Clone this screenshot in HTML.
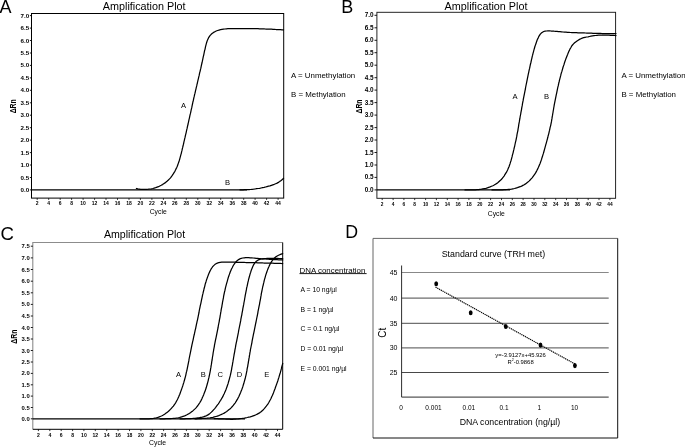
<!DOCTYPE html>
<html lang="en"><head><meta charset="utf-8"><title>Figure</title>
<style>html,body{margin:0;padding:0;background:#fff}svg{display:block}</style></head>
<body>
<svg width="685" height="447" viewBox="0 0 685 447" font-family="'Liberation Sans', Arial, Helvetica, sans-serif" fill="#000">
<rect width="685" height="447" fill="#fff"/>
<text x="-0.6" y="12.5" font-size="18" text-anchor="start" font-weight="normal" >A</text>
<text x="144.2" y="9.7" font-size="10.8" text-anchor="middle" font-weight="normal" >Amplification Plot</text>
<rect x="31.5" y="13.5" width="252.2" height="184.6" fill="none" stroke="#000" stroke-width="1.0"/>
<line x1="29.9" y1="189.9" x2="31.5" y2="189.9" stroke="#000" stroke-width="0.9"/>
<text transform="translate(29.1,191.9) scale(1,1)" font-size="6.2" text-anchor="end" font-weight="bold">0.0</text>
<line x1="29.9" y1="177.5" x2="31.5" y2="177.5" stroke="#000" stroke-width="0.9"/>
<text transform="translate(29.1,179.5) scale(1,1)" font-size="6.2" text-anchor="end" font-weight="bold">0.5</text>
<line x1="29.9" y1="165.0" x2="31.5" y2="165.0" stroke="#000" stroke-width="0.9"/>
<text transform="translate(29.1,167.0) scale(1,1)" font-size="6.2" text-anchor="end" font-weight="bold">1.0</text>
<line x1="29.9" y1="152.6" x2="31.5" y2="152.6" stroke="#000" stroke-width="0.9"/>
<text transform="translate(29.1,154.6) scale(1,1)" font-size="6.2" text-anchor="end" font-weight="bold">1.5</text>
<line x1="29.9" y1="140.1" x2="31.5" y2="140.1" stroke="#000" stroke-width="0.9"/>
<text transform="translate(29.1,142.1) scale(1,1)" font-size="6.2" text-anchor="end" font-weight="bold">2.0</text>
<line x1="29.9" y1="127.7" x2="31.5" y2="127.7" stroke="#000" stroke-width="0.9"/>
<text transform="translate(29.1,129.7) scale(1,1)" font-size="6.2" text-anchor="end" font-weight="bold">2.5</text>
<line x1="29.9" y1="115.2" x2="31.5" y2="115.2" stroke="#000" stroke-width="0.9"/>
<text transform="translate(29.1,117.2) scale(1,1)" font-size="6.2" text-anchor="end" font-weight="bold">3.0</text>
<line x1="29.9" y1="102.8" x2="31.5" y2="102.8" stroke="#000" stroke-width="0.9"/>
<text transform="translate(29.1,104.8) scale(1,1)" font-size="6.2" text-anchor="end" font-weight="bold">3.5</text>
<line x1="29.9" y1="90.3" x2="31.5" y2="90.3" stroke="#000" stroke-width="0.9"/>
<text transform="translate(29.1,92.3) scale(1,1)" font-size="6.2" text-anchor="end" font-weight="bold">4.0</text>
<line x1="29.9" y1="77.9" x2="31.5" y2="77.9" stroke="#000" stroke-width="0.9"/>
<text transform="translate(29.1,79.9) scale(1,1)" font-size="6.2" text-anchor="end" font-weight="bold">4.5</text>
<line x1="29.9" y1="65.4" x2="31.5" y2="65.4" stroke="#000" stroke-width="0.9"/>
<text transform="translate(29.1,67.4) scale(1,1)" font-size="6.2" text-anchor="end" font-weight="bold">5.0</text>
<line x1="29.9" y1="53.0" x2="31.5" y2="53.0" stroke="#000" stroke-width="0.9"/>
<text transform="translate(29.1,55.0) scale(1,1)" font-size="6.2" text-anchor="end" font-weight="bold">5.5</text>
<line x1="29.9" y1="40.5" x2="31.5" y2="40.5" stroke="#000" stroke-width="0.9"/>
<text transform="translate(29.1,42.5) scale(1,1)" font-size="6.2" text-anchor="end" font-weight="bold">6.0</text>
<line x1="29.9" y1="28.1" x2="31.5" y2="28.1" stroke="#000" stroke-width="0.9"/>
<text transform="translate(29.1,30.1) scale(1,1)" font-size="6.2" text-anchor="end" font-weight="bold">6.5</text>
<line x1="29.9" y1="15.6" x2="31.5" y2="15.6" stroke="#000" stroke-width="0.9"/>
<text transform="translate(29.1,17.6) scale(1,1)" font-size="6.2" text-anchor="end" font-weight="bold">7.0</text>
<line x1="37.2" y1="198.1" x2="37.2" y2="199.9" stroke="#000" stroke-width="0.8"/>
<text transform="translate(37.2,205.3) scale(1,1)" font-size="5.0" text-anchor="middle" font-weight="bold">2</text>
<line x1="48.7" y1="198.1" x2="48.7" y2="199.9" stroke="#000" stroke-width="0.8"/>
<text transform="translate(48.7,205.3) scale(1,1)" font-size="5.0" text-anchor="middle" font-weight="bold">4</text>
<line x1="60.2" y1="198.1" x2="60.2" y2="199.9" stroke="#000" stroke-width="0.8"/>
<text transform="translate(60.2,205.3) scale(1,1)" font-size="5.0" text-anchor="middle" font-weight="bold">6</text>
<line x1="71.6" y1="198.1" x2="71.6" y2="199.9" stroke="#000" stroke-width="0.8"/>
<text transform="translate(71.6,205.3) scale(1,1)" font-size="5.0" text-anchor="middle" font-weight="bold">8</text>
<line x1="83.1" y1="198.1" x2="83.1" y2="199.9" stroke="#000" stroke-width="0.8"/>
<text transform="translate(83.1,205.3) scale(1,1)" font-size="5.0" text-anchor="middle" font-weight="bold">10</text>
<line x1="94.6" y1="198.1" x2="94.6" y2="199.9" stroke="#000" stroke-width="0.8"/>
<text transform="translate(94.6,205.3) scale(1,1)" font-size="5.0" text-anchor="middle" font-weight="bold">12</text>
<line x1="106.0" y1="198.1" x2="106.0" y2="199.9" stroke="#000" stroke-width="0.8"/>
<text transform="translate(106.0,205.3) scale(1,1)" font-size="5.0" text-anchor="middle" font-weight="bold">14</text>
<line x1="117.5" y1="198.1" x2="117.5" y2="199.9" stroke="#000" stroke-width="0.8"/>
<text transform="translate(117.5,205.3) scale(1,1)" font-size="5.0" text-anchor="middle" font-weight="bold">16</text>
<line x1="129.0" y1="198.1" x2="129.0" y2="199.9" stroke="#000" stroke-width="0.8"/>
<text transform="translate(129.0,205.3) scale(1,1)" font-size="5.0" text-anchor="middle" font-weight="bold">18</text>
<line x1="140.4" y1="198.1" x2="140.4" y2="199.9" stroke="#000" stroke-width="0.8"/>
<text transform="translate(140.4,205.3) scale(1,1)" font-size="5.0" text-anchor="middle" font-weight="bold">20</text>
<line x1="151.9" y1="198.1" x2="151.9" y2="199.9" stroke="#000" stroke-width="0.8"/>
<text transform="translate(151.9,205.3) scale(1,1)" font-size="5.0" text-anchor="middle" font-weight="bold">22</text>
<line x1="163.4" y1="198.1" x2="163.4" y2="199.9" stroke="#000" stroke-width="0.8"/>
<text transform="translate(163.4,205.3) scale(1,1)" font-size="5.0" text-anchor="middle" font-weight="bold">24</text>
<line x1="174.8" y1="198.1" x2="174.8" y2="199.9" stroke="#000" stroke-width="0.8"/>
<text transform="translate(174.8,205.3) scale(1,1)" font-size="5.0" text-anchor="middle" font-weight="bold">26</text>
<line x1="186.3" y1="198.1" x2="186.3" y2="199.9" stroke="#000" stroke-width="0.8"/>
<text transform="translate(186.3,205.3) scale(1,1)" font-size="5.0" text-anchor="middle" font-weight="bold">28</text>
<line x1="197.8" y1="198.1" x2="197.8" y2="199.9" stroke="#000" stroke-width="0.8"/>
<text transform="translate(197.8,205.3) scale(1,1)" font-size="5.0" text-anchor="middle" font-weight="bold">30</text>
<line x1="209.3" y1="198.1" x2="209.3" y2="199.9" stroke="#000" stroke-width="0.8"/>
<text transform="translate(209.3,205.3) scale(1,1)" font-size="5.0" text-anchor="middle" font-weight="bold">32</text>
<line x1="220.7" y1="198.1" x2="220.7" y2="199.9" stroke="#000" stroke-width="0.8"/>
<text transform="translate(220.7,205.3) scale(1,1)" font-size="5.0" text-anchor="middle" font-weight="bold">34</text>
<line x1="232.2" y1="198.1" x2="232.2" y2="199.9" stroke="#000" stroke-width="0.8"/>
<text transform="translate(232.2,205.3) scale(1,1)" font-size="5.0" text-anchor="middle" font-weight="bold">36</text>
<line x1="243.7" y1="198.1" x2="243.7" y2="199.9" stroke="#000" stroke-width="0.8"/>
<text transform="translate(243.7,205.3) scale(1,1)" font-size="5.0" text-anchor="middle" font-weight="bold">38</text>
<line x1="255.1" y1="198.1" x2="255.1" y2="199.9" stroke="#000" stroke-width="0.8"/>
<text transform="translate(255.1,205.3) scale(1,1)" font-size="5.0" text-anchor="middle" font-weight="bold">40</text>
<line x1="266.6" y1="198.1" x2="266.6" y2="199.9" stroke="#000" stroke-width="0.8"/>
<text transform="translate(266.6,205.3) scale(1,1)" font-size="5.0" text-anchor="middle" font-weight="bold">42</text>
<line x1="278.1" y1="198.1" x2="278.1" y2="199.9" stroke="#000" stroke-width="0.8"/>
<text transform="translate(278.1,205.3) scale(1,1)" font-size="5.0" text-anchor="middle" font-weight="bold">44</text>
<text transform="translate(16.4,106.3) rotate(-90) scale(1,1.3)" font-size="6.9" font-weight="bold" text-anchor="middle">ΔRn</text>
<text x="158.2" y="214.2" font-size="6.8" text-anchor="middle" font-weight="normal" >Cycle</text>
<line x1="31.5" y1="189.8" x2="247" y2="189.8" stroke="#000" stroke-width="1.3"/>
<path d="M136.4,188.5 L137.9,188.9 L139.3,189.1 L140.8,189.3 L142.3,189.4 L143.8,189.4 L145.3,189.4 L146.8,189.3 L148.3,189.2 L149.8,189.0 L151.3,188.8 L152.8,188.5 L154.2,188.1 L155.7,187.7 L157.1,187.2 L158.5,186.7 L159.8,186.0 L161.2,185.3 L162.5,184.6 L163.7,183.7 L165.0,182.9 L166.1,182.0 L167.3,181.0 L168.4,180.0 L169.5,178.9 L170.5,177.8 L171.4,176.6 L172.3,175.4 L173.1,174.2 L173.9,172.9 L174.7,171.6 L175.4,170.3 L176.0,168.9 L176.7,167.6 L177.3,166.2 L177.8,164.8 L178.3,163.4 L178.8,162.0 L179.3,160.5 L179.7,159.1 L180.1,157.6 L180.5,156.2 L180.9,154.7 L181.3,153.3 L181.6,151.8 L182.0,150.4 L182.3,148.9 L182.7,147.4 L183.0,146.0 L183.4,144.5 L183.7,143.1 L184.0,141.6 L184.4,140.1 L184.7,138.7 L185.1,137.2 L185.4,135.7 L185.7,134.3 L186.1,132.8 L186.4,131.3 L186.7,129.9 L187.1,128.4 L187.4,126.9 L187.7,125.5 L188.1,124.0 L188.4,122.5 L188.7,121.1 L189.0,119.6 L189.4,118.1 L189.7,116.7 L190.0,115.2 L190.4,113.7 L190.7,112.3 L191.0,110.8 L191.3,109.3 L191.7,107.9 L192.0,106.4 L192.3,104.9 L192.6,103.5 L192.9,102.0 L193.3,100.5 L193.6,99.1 L193.9,97.6 L194.3,96.2 L194.6,94.7 L195.0,93.2 L195.3,91.8 L195.6,90.3 L196.0,88.8 L196.3,87.4 L196.7,85.9 L197.0,84.4 L197.4,83.0 L197.7,81.5 L198.0,80.1 L198.4,78.6 L198.7,77.1 L199.1,75.7 L199.4,74.2 L199.7,72.7 L200.1,71.3 L200.4,69.8 L200.8,68.4 L201.1,66.9 L201.4,65.4 L201.7,64.0 L202.1,62.5 L202.4,61.0 L202.7,59.6 L203.0,58.1 L203.3,56.6 L203.7,55.1 L204.0,53.7 L204.3,52.2 L204.6,50.7 L205.0,49.3 L205.3,47.8 L205.6,46.3 L206.0,44.9 L206.4,43.4 L206.8,42.0 L207.3,40.6 L207.9,39.2 L208.5,37.9 L209.3,36.6 L210.2,35.4 L211.2,34.3 L212.4,33.3 L213.6,32.4 L214.9,31.7 L216.2,31.0 L217.6,30.5 L219.0,30.1 L220.5,29.7 L222.0,29.4 L223.5,29.2 L224.9,29.0 L226.4,28.8 L227.9,28.7 L229.4,28.7 L230.9,28.6 L232.4,28.6 L233.9,28.6 L235.4,28.5 L237.0,28.5 L238.5,28.5 L240.0,28.5 L241.5,28.5 L243.0,28.5 L244.5,28.5 L246.0,28.5 L247.5,28.5 L249.0,28.5 L250.5,28.5 L252.0,28.6 L253.5,28.6 L255.0,28.6 L256.5,28.7 L258.0,28.7 L259.5,28.8 L261.0,28.8 L262.5,28.9 L264.0,28.9 L265.5,29.0 L267.0,29.0 L268.5,29.1 L270.0,29.2 L271.5,29.2 L273.0,29.3 L274.5,29.4 L276.0,29.5 L277.5,29.5 L279.0,29.6 L280.5,29.7 L282.0,29.8 L283.5,29.9" fill="none" stroke="#000" stroke-width="1.25" stroke-linejoin="round" stroke-linecap="round"/>
<path d="M240.0,189.8 L241.5,189.8 L243.0,189.8 L244.6,189.7 L246.1,189.7 L247.6,189.7 L249.1,189.6 L250.6,189.5 L252.1,189.3 L253.6,189.2 L255.1,189.0 L256.6,188.7 L258.1,188.5 L259.6,188.3 L261.1,188.0 L262.6,187.7 L264.1,187.4 L265.6,187.0 L267.0,186.6 L268.5,186.2 L269.9,185.8 L271.4,185.3 L272.8,184.8 L274.3,184.3 L275.7,183.7 L277.1,183.1 L278.4,182.4 L279.6,181.6 L280.8,180.7 L282.0,179.7 L283.1,178.7 L283.5,178.3" fill="none" stroke="#000" stroke-width="1.25" stroke-linejoin="round" stroke-linecap="round"/>
<text x="183.6" y="108.0" font-size="7.6" text-anchor="middle" font-weight="normal" >A</text>
<text x="227.6" y="185" font-size="7.6" text-anchor="middle" font-weight="normal" >B</text>
<text x="291.0" y="78" font-size="7.9" text-anchor="start" font-weight="normal" >A = Unmethylation</text>
<text x="291.0" y="97" font-size="7.9" text-anchor="start" font-weight="normal" >B = Methylation</text>
<text x="341.3" y="12.7" font-size="18" text-anchor="start" font-weight="normal" >B</text>
<text x="486.0" y="9.7" font-size="10.8" text-anchor="middle" font-weight="normal" >Amplification Plot</text>
<rect x="376.9" y="12.3" width="238.7" height="186.0" fill="none" stroke="#1a1a1a" stroke-width="0.95"/>
<line x1="374.5" y1="189.9" x2="376.9" y2="189.9" stroke="#000" stroke-width="0.9"/>
<text transform="translate(373.6,191.9) scale(1,1)" font-size="6.4" text-anchor="end" font-weight="bold">0.0</text>
<line x1="374.5" y1="177.4" x2="376.9" y2="177.4" stroke="#000" stroke-width="0.9"/>
<text transform="translate(373.6,179.4) scale(1,1)" font-size="6.4" text-anchor="end" font-weight="bold">0.5</text>
<line x1="374.5" y1="165.0" x2="376.9" y2="165.0" stroke="#000" stroke-width="0.9"/>
<text transform="translate(373.6,167.0) scale(1,1)" font-size="6.4" text-anchor="end" font-weight="bold">1.0</text>
<line x1="374.5" y1="152.5" x2="376.9" y2="152.5" stroke="#000" stroke-width="0.9"/>
<text transform="translate(373.6,154.5) scale(1,1)" font-size="6.4" text-anchor="end" font-weight="bold">1.5</text>
<line x1="374.5" y1="140.0" x2="376.9" y2="140.0" stroke="#000" stroke-width="0.9"/>
<text transform="translate(373.6,142.0) scale(1,1)" font-size="6.4" text-anchor="end" font-weight="bold">2.0</text>
<line x1="374.5" y1="127.6" x2="376.9" y2="127.6" stroke="#000" stroke-width="0.9"/>
<text transform="translate(373.6,129.6) scale(1,1)" font-size="6.4" text-anchor="end" font-weight="bold">2.5</text>
<line x1="374.5" y1="115.1" x2="376.9" y2="115.1" stroke="#000" stroke-width="0.9"/>
<text transform="translate(373.6,117.1) scale(1,1)" font-size="6.4" text-anchor="end" font-weight="bold">3.0</text>
<line x1="374.5" y1="102.6" x2="376.9" y2="102.6" stroke="#000" stroke-width="0.9"/>
<text transform="translate(373.6,104.6) scale(1,1)" font-size="6.4" text-anchor="end" font-weight="bold">3.5</text>
<line x1="374.5" y1="90.1" x2="376.9" y2="90.1" stroke="#000" stroke-width="0.9"/>
<text transform="translate(373.6,92.1) scale(1,1)" font-size="6.4" text-anchor="end" font-weight="bold">4.0</text>
<line x1="374.5" y1="77.7" x2="376.9" y2="77.7" stroke="#000" stroke-width="0.9"/>
<text transform="translate(373.6,79.7) scale(1,1)" font-size="6.4" text-anchor="end" font-weight="bold">4.5</text>
<line x1="374.5" y1="65.2" x2="376.9" y2="65.2" stroke="#000" stroke-width="0.9"/>
<text transform="translate(373.6,67.2) scale(1,1)" font-size="6.4" text-anchor="end" font-weight="bold">5.0</text>
<line x1="374.5" y1="52.7" x2="376.9" y2="52.7" stroke="#000" stroke-width="0.9"/>
<text transform="translate(373.6,54.7) scale(1,1)" font-size="6.4" text-anchor="end" font-weight="bold">5.5</text>
<line x1="374.5" y1="40.3" x2="376.9" y2="40.3" stroke="#000" stroke-width="0.9"/>
<text transform="translate(373.6,42.3) scale(1,1)" font-size="6.4" text-anchor="end" font-weight="bold">6.0</text>
<line x1="374.5" y1="27.8" x2="376.9" y2="27.8" stroke="#000" stroke-width="0.9"/>
<text transform="translate(373.6,29.8) scale(1,1)" font-size="6.4" text-anchor="end" font-weight="bold">6.5</text>
<line x1="374.5" y1="15.3" x2="376.9" y2="15.3" stroke="#000" stroke-width="0.9"/>
<text transform="translate(373.6,17.3) scale(1,1)" font-size="6.4" text-anchor="end" font-weight="bold">7.0</text>
<line x1="382.2" y1="198.3" x2="382.2" y2="200.1" stroke="#000" stroke-width="0.8"/>
<text transform="translate(382.2,206.2) scale(1,1)" font-size="4.8" text-anchor="middle" font-weight="bold">2</text>
<line x1="393.1" y1="198.3" x2="393.1" y2="200.1" stroke="#000" stroke-width="0.8"/>
<text transform="translate(393.1,206.2) scale(1,1)" font-size="4.8" text-anchor="middle" font-weight="bold">4</text>
<line x1="403.9" y1="198.3" x2="403.9" y2="200.1" stroke="#000" stroke-width="0.8"/>
<text transform="translate(403.9,206.2) scale(1,1)" font-size="4.8" text-anchor="middle" font-weight="bold">6</text>
<line x1="414.7" y1="198.3" x2="414.7" y2="200.1" stroke="#000" stroke-width="0.8"/>
<text transform="translate(414.7,206.2) scale(1,1)" font-size="4.8" text-anchor="middle" font-weight="bold">8</text>
<line x1="425.6" y1="198.3" x2="425.6" y2="200.1" stroke="#000" stroke-width="0.8"/>
<text transform="translate(425.6,206.2) scale(1,1)" font-size="4.8" text-anchor="middle" font-weight="bold">10</text>
<line x1="436.4" y1="198.3" x2="436.4" y2="200.1" stroke="#000" stroke-width="0.8"/>
<text transform="translate(436.4,206.2) scale(1,1)" font-size="4.8" text-anchor="middle" font-weight="bold">12</text>
<line x1="447.3" y1="198.3" x2="447.3" y2="200.1" stroke="#000" stroke-width="0.8"/>
<text transform="translate(447.3,206.2) scale(1,1)" font-size="4.8" text-anchor="middle" font-weight="bold">14</text>
<line x1="458.1" y1="198.3" x2="458.1" y2="200.1" stroke="#000" stroke-width="0.8"/>
<text transform="translate(458.1,206.2) scale(1,1)" font-size="4.8" text-anchor="middle" font-weight="bold">16</text>
<line x1="468.9" y1="198.3" x2="468.9" y2="200.1" stroke="#000" stroke-width="0.8"/>
<text transform="translate(468.9,206.2) scale(1,1)" font-size="4.8" text-anchor="middle" font-weight="bold">18</text>
<line x1="479.8" y1="198.3" x2="479.8" y2="200.1" stroke="#000" stroke-width="0.8"/>
<text transform="translate(479.8,206.2) scale(1,1)" font-size="4.8" text-anchor="middle" font-weight="bold">20</text>
<line x1="490.6" y1="198.3" x2="490.6" y2="200.1" stroke="#000" stroke-width="0.8"/>
<text transform="translate(490.6,206.2) scale(1,1)" font-size="4.8" text-anchor="middle" font-weight="bold">22</text>
<line x1="501.5" y1="198.3" x2="501.5" y2="200.1" stroke="#000" stroke-width="0.8"/>
<text transform="translate(501.5,206.2) scale(1,1)" font-size="4.8" text-anchor="middle" font-weight="bold">24</text>
<line x1="512.3" y1="198.3" x2="512.3" y2="200.1" stroke="#000" stroke-width="0.8"/>
<text transform="translate(512.3,206.2) scale(1,1)" font-size="4.8" text-anchor="middle" font-weight="bold">26</text>
<line x1="523.1" y1="198.3" x2="523.1" y2="200.1" stroke="#000" stroke-width="0.8"/>
<text transform="translate(523.1,206.2) scale(1,1)" font-size="4.8" text-anchor="middle" font-weight="bold">28</text>
<line x1="534.0" y1="198.3" x2="534.0" y2="200.1" stroke="#000" stroke-width="0.8"/>
<text transform="translate(534.0,206.2) scale(1,1)" font-size="4.8" text-anchor="middle" font-weight="bold">30</text>
<line x1="544.8" y1="198.3" x2="544.8" y2="200.1" stroke="#000" stroke-width="0.8"/>
<text transform="translate(544.8,206.2) scale(1,1)" font-size="4.8" text-anchor="middle" font-weight="bold">32</text>
<line x1="555.7" y1="198.3" x2="555.7" y2="200.1" stroke="#000" stroke-width="0.8"/>
<text transform="translate(555.7,206.2) scale(1,1)" font-size="4.8" text-anchor="middle" font-weight="bold">34</text>
<line x1="566.5" y1="198.3" x2="566.5" y2="200.1" stroke="#000" stroke-width="0.8"/>
<text transform="translate(566.5,206.2) scale(1,1)" font-size="4.8" text-anchor="middle" font-weight="bold">36</text>
<line x1="577.3" y1="198.3" x2="577.3" y2="200.1" stroke="#000" stroke-width="0.8"/>
<text transform="translate(577.3,206.2) scale(1,1)" font-size="4.8" text-anchor="middle" font-weight="bold">38</text>
<line x1="588.2" y1="198.3" x2="588.2" y2="200.1" stroke="#000" stroke-width="0.8"/>
<text transform="translate(588.2,206.2) scale(1,1)" font-size="4.8" text-anchor="middle" font-weight="bold">40</text>
<line x1="599.0" y1="198.3" x2="599.0" y2="200.1" stroke="#000" stroke-width="0.8"/>
<text transform="translate(599.0,206.2) scale(1,1)" font-size="4.8" text-anchor="middle" font-weight="bold">42</text>
<line x1="609.9" y1="198.3" x2="609.9" y2="200.1" stroke="#000" stroke-width="0.8"/>
<text transform="translate(609.9,206.2) scale(1,1)" font-size="4.8" text-anchor="middle" font-weight="bold">44</text>
<text transform="translate(362.3,106.5) rotate(-90) scale(1,1.3)" font-size="6.9" font-weight="bold" text-anchor="middle">ΔRn</text>
<text x="496.3" y="216" font-size="6.8" text-anchor="middle" font-weight="normal" >Cycle</text>
<line x1="376.9" y1="189.9" x2="510" y2="189.9" stroke="#000" stroke-width="1.3"/>
<path d="M465.0,189.9 L466.5,189.9 L468.0,189.9 L469.5,189.9 L471.0,189.9 L472.5,189.9 L474.0,189.8 L475.5,189.8 L477.0,189.7 L478.5,189.6 L480.0,189.4 L481.5,189.2 L482.9,188.9 L484.4,188.6 L485.9,188.3 L487.3,187.9 L488.7,187.4 L490.1,186.9 L491.5,186.3 L492.9,185.7 L494.2,185.0 L495.5,184.2 L496.8,183.4 L498.0,182.5 L499.1,181.5 L500.2,180.5 L501.3,179.5 L502.3,178.3 L503.2,177.2 L504.1,176.0 L504.9,174.7 L505.7,173.4 L506.5,172.1 L507.2,170.8 L507.8,169.5 L508.4,168.1 L509.0,166.7 L509.5,165.3 L510.0,163.9 L510.4,162.4 L510.9,161.0 L511.3,159.6 L511.7,158.1 L512.1,156.7 L512.4,155.2 L512.8,153.8 L513.2,152.3 L513.5,150.8 L513.9,149.4 L514.2,147.9 L514.6,146.5 L514.9,145.0 L515.2,143.5 L515.5,142.1 L515.9,140.6 L516.2,139.1 L516.5,137.7 L516.8,136.2 L517.0,134.7 L517.3,133.2 L517.6,131.8 L517.9,130.3 L518.1,128.8 L518.4,127.3 L518.6,125.8 L518.8,124.4 L519.1,122.9 L519.4,121.4 L519.6,119.9 L519.9,118.5 L520.1,117.0 L520.4,115.5 L520.7,114.0 L520.9,112.6 L521.2,111.1 L521.5,109.6 L521.7,108.1 L522.0,106.6 L522.3,105.2 L522.5,103.7 L522.8,102.2 L523.1,100.7 L523.3,99.3 L523.6,97.8 L523.9,96.3 L524.2,94.8 L524.5,93.4 L524.8,91.9 L525.1,90.4 L525.4,89.0 L525.6,87.5 L525.9,86.0 L526.2,84.5 L526.5,83.1 L526.8,81.6 L527.1,80.1 L527.4,78.7 L527.7,77.2 L528.0,75.7 L528.3,74.2 L528.6,72.8 L528.9,71.3 L529.2,69.8 L529.6,68.4 L529.9,66.9 L530.2,65.4 L530.5,64.0 L530.9,62.5 L531.2,61.1 L531.5,59.6 L531.9,58.1 L532.2,56.7 L532.6,55.2 L532.9,53.8 L533.3,52.3 L533.7,50.8 L534.1,49.4 L534.5,48.0 L534.9,46.5 L535.4,45.1 L535.9,43.7 L536.4,42.3 L536.9,40.8 L537.4,39.4 L538.1,38.1 L538.7,36.7 L539.5,35.4 L540.3,34.2 L541.3,33.1 L542.5,32.2 L543.7,31.5 L545.1,31.1 L546.5,31.0 L548.0,30.9 L549.6,30.9 L551.1,31.0 L552.6,31.0 L554.1,31.2 L555.6,31.3 L557.0,31.4 L558.5,31.6 L560.0,31.7 L561.5,31.8 L563.0,32.0 L564.5,32.1 L566.0,32.2 L567.5,32.3 L569.0,32.4 L570.5,32.5 L572.0,32.6 L573.5,32.6 L575.0,32.7 L576.5,32.7 L578.0,32.8 L579.5,32.8 L581.0,32.9 L582.5,32.9 L584.0,32.9 L585.5,33.0 L587.0,33.1 L588.5,33.1 L590.0,33.2 L591.5,33.2 L593.0,33.3 L594.5,33.3 L596.0,33.3 L597.5,33.4 L599.0,33.4 L600.5,33.4 L602.0,33.5 L603.5,33.5 L605.0,33.5 L606.5,33.5 L608.0,33.5 L609.5,33.6 L611.0,33.6 L612.5,33.6 L614.0,33.6 L615.5,33.6 L616.0,33.6" fill="none" stroke="#000" stroke-width="1.25" stroke-linejoin="round" stroke-linecap="round"/>
<path d="M492.0,189.9 L493.5,189.9 L495.0,189.9 L496.5,189.9 L498.0,189.9 L499.5,189.8 L501.0,189.8 L502.5,189.8 L504.0,189.7 L505.5,189.6 L507.0,189.5 L508.5,189.4 L510.0,189.3 L511.5,189.1 L513.0,188.8 L514.5,188.5 L515.9,188.1 L517.4,187.7 L518.8,187.2 L520.2,186.7 L521.6,186.1 L522.9,185.4 L524.2,184.7 L525.5,183.9 L526.7,183.0 L527.9,182.1 L529.0,181.1 L530.1,180.0 L531.1,178.9 L532.1,177.8 L533.0,176.6 L533.9,175.4 L534.8,174.2 L535.6,172.9 L536.3,171.6 L537.0,170.3 L537.7,168.9 L538.3,167.6 L538.9,166.2 L539.5,164.8 L540.1,163.4 L540.6,162.0 L541.1,160.6 L541.6,159.2 L542.0,157.7 L542.5,156.3 L542.9,154.9 L543.4,153.4 L543.8,152.0 L544.2,150.5 L544.6,149.1 L545.0,147.6 L545.4,146.2 L545.8,144.7 L546.2,143.3 L546.6,141.8 L547.0,140.4 L547.4,138.9 L547.8,137.5 L548.1,136.0 L548.5,134.6 L548.9,133.1 L549.2,131.6 L549.6,130.2 L549.9,128.7 L550.2,127.2 L550.6,125.8 L550.9,124.3 L551.2,122.8 L551.5,121.4 L551.7,119.9 L552.0,118.4 L552.2,116.9 L552.5,115.4 L552.7,114.0 L553.0,112.5 L553.2,111.0 L553.5,109.5 L553.7,108.0 L554.0,106.5 L554.2,105.1 L554.5,103.6 L554.8,102.1 L555.1,100.6 L555.4,99.2 L555.7,97.7 L556.0,96.2 L556.3,94.7 L556.6,93.3 L556.9,91.8 L557.2,90.3 L557.5,88.9 L557.8,87.4 L558.2,85.9 L558.5,84.5 L558.8,83.0 L559.2,81.5 L559.5,80.1 L559.9,78.6 L560.3,77.2 L560.7,75.7 L561.0,74.2 L561.4,72.8 L561.9,71.4 L562.3,69.9 L562.7,68.5 L563.1,67.0 L563.6,65.6 L564.1,64.2 L564.5,62.7 L565.0,61.3 L565.5,59.9 L566.0,58.5 L566.6,57.1 L567.1,55.7 L567.7,54.3 L568.2,52.9 L568.8,51.5 L569.5,50.1 L570.1,48.8 L570.9,47.5 L571.6,46.2 L572.5,45.0 L573.5,43.9 L574.6,42.8 L575.7,41.9 L577.0,41.0 L578.2,40.2 L579.5,39.4 L580.9,38.7 L582.2,38.1 L583.6,37.7 L585.1,37.3 L586.6,37.0 L588.1,36.8 L589.5,36.5 L591.0,36.2 L592.5,35.9 L594.0,35.7 L595.5,35.5 L597.0,35.3 L598.5,35.2 L600.0,35.2 L601.5,35.2 L603.0,35.2 L604.5,35.2 L606.0,35.2 L607.5,35.2 L609.0,35.2 L610.5,35.3 L612.0,35.3 L613.5,35.4 L615.0,35.5 L616.0,35.5" fill="none" stroke="#000" stroke-width="1.25" stroke-linejoin="round" stroke-linecap="round"/>
<text x="515.1" y="99.0" font-size="7.6" text-anchor="middle" font-weight="normal" >A</text>
<text x="546.6" y="99.0" font-size="7.6" text-anchor="middle" font-weight="normal" >B</text>
<text x="621.4" y="78" font-size="7.9" text-anchor="start" font-weight="normal" >A = Unmethylation</text>
<text x="621.4" y="97" font-size="7.9" text-anchor="start" font-weight="normal" >B = Methylation</text>
<text x="0.5" y="240.2" font-size="18.6" text-anchor="start" font-weight="normal" >C</text>
<text x="144.6" y="237.6" font-size="10.6" text-anchor="middle" font-weight="normal" >Amplification Plot</text>
<path d="M32.8,429.3 V242.5 H282.7" fill="none" stroke="#8c8c8c" stroke-width="1.1"/>
<path d="M282.7,242.5 V429.3 H32.8" fill="none" stroke="#000" stroke-width="1.0"/>
<line x1="30.8" y1="418.8" x2="32.8" y2="418.8" stroke="#000" stroke-width="0.9"/>
<text transform="translate(29.8,420.8) scale(1,1)" font-size="5.9" text-anchor="end" font-weight="bold">0.0</text>
<line x1="30.8" y1="407.5" x2="32.8" y2="407.5" stroke="#000" stroke-width="0.9"/>
<text transform="translate(29.8,409.5) scale(1,1)" font-size="5.9" text-anchor="end" font-weight="bold">0.5</text>
<line x1="30.8" y1="396.1" x2="32.8" y2="396.1" stroke="#000" stroke-width="0.9"/>
<text transform="translate(29.8,398.1) scale(1,1)" font-size="5.9" text-anchor="end" font-weight="bold">1.0</text>
<line x1="30.8" y1="384.8" x2="32.8" y2="384.8" stroke="#000" stroke-width="0.9"/>
<text transform="translate(29.8,386.8) scale(1,1)" font-size="5.9" text-anchor="end" font-weight="bold">1.5</text>
<line x1="30.8" y1="373.4" x2="32.8" y2="373.4" stroke="#000" stroke-width="0.9"/>
<text transform="translate(29.8,375.4) scale(1,1)" font-size="5.9" text-anchor="end" font-weight="bold">2.0</text>
<line x1="30.8" y1="362.0" x2="32.8" y2="362.0" stroke="#000" stroke-width="0.9"/>
<text transform="translate(29.8,364.0) scale(1,1)" font-size="5.9" text-anchor="end" font-weight="bold">2.5</text>
<line x1="30.8" y1="350.5" x2="32.8" y2="350.5" stroke="#000" stroke-width="0.9"/>
<text transform="translate(29.8,352.5) scale(1,1)" font-size="5.9" text-anchor="end" font-weight="bold">3.0</text>
<line x1="30.8" y1="339.0" x2="32.8" y2="339.0" stroke="#000" stroke-width="0.9"/>
<text transform="translate(29.8,341.0) scale(1,1)" font-size="5.9" text-anchor="end" font-weight="bold">3.5</text>
<line x1="30.8" y1="327.5" x2="32.8" y2="327.5" stroke="#000" stroke-width="0.9"/>
<text transform="translate(29.8,329.5) scale(1,1)" font-size="5.9" text-anchor="end" font-weight="bold">4.0</text>
<line x1="30.8" y1="316.0" x2="32.8" y2="316.0" stroke="#000" stroke-width="0.9"/>
<text transform="translate(29.8,318.0) scale(1,1)" font-size="5.9" text-anchor="end" font-weight="bold">4.5</text>
<line x1="30.8" y1="304.4" x2="32.8" y2="304.4" stroke="#000" stroke-width="0.9"/>
<text transform="translate(29.8,306.4) scale(1,1)" font-size="5.9" text-anchor="end" font-weight="bold">5.0</text>
<line x1="30.8" y1="292.8" x2="32.8" y2="292.8" stroke="#000" stroke-width="0.9"/>
<text transform="translate(29.8,294.8) scale(1,1)" font-size="5.9" text-anchor="end" font-weight="bold">5.5</text>
<line x1="30.8" y1="281.2" x2="32.8" y2="281.2" stroke="#000" stroke-width="0.9"/>
<text transform="translate(29.8,283.2) scale(1,1)" font-size="5.9" text-anchor="end" font-weight="bold">6.0</text>
<line x1="30.8" y1="269.5" x2="32.8" y2="269.5" stroke="#000" stroke-width="0.9"/>
<text transform="translate(29.8,271.5) scale(1,1)" font-size="5.9" text-anchor="end" font-weight="bold">6.5</text>
<line x1="30.8" y1="257.9" x2="32.8" y2="257.9" stroke="#000" stroke-width="0.9"/>
<text transform="translate(29.8,259.9) scale(1,1)" font-size="5.9" text-anchor="end" font-weight="bold">7.0</text>
<line x1="30.8" y1="246.2" x2="32.8" y2="246.2" stroke="#000" stroke-width="0.9"/>
<text transform="translate(29.8,248.2) scale(1,1)" font-size="5.9" text-anchor="end" font-weight="bold">7.5</text>
<line x1="38.4" y1="429.3" x2="38.4" y2="431.1" stroke="#000" stroke-width="0.8"/>
<text transform="translate(38.4,436.9) scale(1,1)" font-size="5.1" text-anchor="middle" font-weight="bold">2</text>
<line x1="49.8" y1="429.3" x2="49.8" y2="431.1" stroke="#000" stroke-width="0.8"/>
<text transform="translate(49.8,436.9) scale(1,1)" font-size="5.1" text-anchor="middle" font-weight="bold">4</text>
<line x1="61.2" y1="429.3" x2="61.2" y2="431.1" stroke="#000" stroke-width="0.8"/>
<text transform="translate(61.2,436.9) scale(1,1)" font-size="5.1" text-anchor="middle" font-weight="bold">6</text>
<line x1="72.6" y1="429.3" x2="72.6" y2="431.1" stroke="#000" stroke-width="0.8"/>
<text transform="translate(72.6,436.9) scale(1,1)" font-size="5.1" text-anchor="middle" font-weight="bold">8</text>
<line x1="83.9" y1="429.3" x2="83.9" y2="431.1" stroke="#000" stroke-width="0.8"/>
<text transform="translate(83.9,436.9) scale(1,1)" font-size="5.1" text-anchor="middle" font-weight="bold">10</text>
<line x1="95.3" y1="429.3" x2="95.3" y2="431.1" stroke="#000" stroke-width="0.8"/>
<text transform="translate(95.3,436.9) scale(1,1)" font-size="5.1" text-anchor="middle" font-weight="bold">12</text>
<line x1="106.7" y1="429.3" x2="106.7" y2="431.1" stroke="#000" stroke-width="0.8"/>
<text transform="translate(106.7,436.9) scale(1,1)" font-size="5.1" text-anchor="middle" font-weight="bold">14</text>
<line x1="118.1" y1="429.3" x2="118.1" y2="431.1" stroke="#000" stroke-width="0.8"/>
<text transform="translate(118.1,436.9) scale(1,1)" font-size="5.1" text-anchor="middle" font-weight="bold">16</text>
<line x1="129.5" y1="429.3" x2="129.5" y2="431.1" stroke="#000" stroke-width="0.8"/>
<text transform="translate(129.5,436.9) scale(1,1)" font-size="5.1" text-anchor="middle" font-weight="bold">18</text>
<line x1="140.9" y1="429.3" x2="140.9" y2="431.1" stroke="#000" stroke-width="0.8"/>
<text transform="translate(140.9,436.9) scale(1,1)" font-size="5.1" text-anchor="middle" font-weight="bold">20</text>
<line x1="152.3" y1="429.3" x2="152.3" y2="431.1" stroke="#000" stroke-width="0.8"/>
<text transform="translate(152.3,436.9) scale(1,1)" font-size="5.1" text-anchor="middle" font-weight="bold">22</text>
<line x1="163.6" y1="429.3" x2="163.6" y2="431.1" stroke="#000" stroke-width="0.8"/>
<text transform="translate(163.6,436.9) scale(1,1)" font-size="5.1" text-anchor="middle" font-weight="bold">24</text>
<line x1="175.0" y1="429.3" x2="175.0" y2="431.1" stroke="#000" stroke-width="0.8"/>
<text transform="translate(175.0,436.9) scale(1,1)" font-size="5.1" text-anchor="middle" font-weight="bold">26</text>
<line x1="186.4" y1="429.3" x2="186.4" y2="431.1" stroke="#000" stroke-width="0.8"/>
<text transform="translate(186.4,436.9) scale(1,1)" font-size="5.1" text-anchor="middle" font-weight="bold">28</text>
<line x1="197.8" y1="429.3" x2="197.8" y2="431.1" stroke="#000" stroke-width="0.8"/>
<text transform="translate(197.8,436.9) scale(1,1)" font-size="5.1" text-anchor="middle" font-weight="bold">30</text>
<line x1="209.2" y1="429.3" x2="209.2" y2="431.1" stroke="#000" stroke-width="0.8"/>
<text transform="translate(209.2,436.9) scale(1,1)" font-size="5.1" text-anchor="middle" font-weight="bold">32</text>
<line x1="220.6" y1="429.3" x2="220.6" y2="431.1" stroke="#000" stroke-width="0.8"/>
<text transform="translate(220.6,436.9) scale(1,1)" font-size="5.1" text-anchor="middle" font-weight="bold">34</text>
<line x1="232.0" y1="429.3" x2="232.0" y2="431.1" stroke="#000" stroke-width="0.8"/>
<text transform="translate(232.0,436.9) scale(1,1)" font-size="5.1" text-anchor="middle" font-weight="bold">36</text>
<line x1="243.3" y1="429.3" x2="243.3" y2="431.1" stroke="#000" stroke-width="0.8"/>
<text transform="translate(243.3,436.9) scale(1,1)" font-size="5.1" text-anchor="middle" font-weight="bold">38</text>
<line x1="254.7" y1="429.3" x2="254.7" y2="431.1" stroke="#000" stroke-width="0.8"/>
<text transform="translate(254.7,436.9) scale(1,1)" font-size="5.1" text-anchor="middle" font-weight="bold">40</text>
<line x1="266.1" y1="429.3" x2="266.1" y2="431.1" stroke="#000" stroke-width="0.8"/>
<text transform="translate(266.1,436.9) scale(1,1)" font-size="5.1" text-anchor="middle" font-weight="bold">42</text>
<line x1="277.5" y1="429.3" x2="277.5" y2="431.1" stroke="#000" stroke-width="0.8"/>
<text transform="translate(277.5,436.9) scale(1,1)" font-size="5.1" text-anchor="middle" font-weight="bold">44</text>
<text transform="translate(17.1,336.6) rotate(-90) scale(1,1.3)" font-size="6.9" font-weight="bold" text-anchor="middle">ΔRn</text>
<text x="157.6" y="445" font-size="6.8" text-anchor="middle" font-weight="normal" >Cycle</text>
<line x1="32.8" y1="418.8" x2="245" y2="418.8" stroke="#000" stroke-width="1.3"/>
<path d="M140.0,418.8 L141.5,418.8 L143.0,418.8 L144.5,418.8 L146.0,418.8 L147.5,418.8 L149.0,418.8 L150.5,418.7 L152.0,418.6 L153.5,418.4 L155.0,418.1 L156.4,417.8 L157.9,417.4 L159.3,416.9 L160.7,416.3 L162.0,415.7 L163.3,415.0 L164.6,414.2 L165.8,413.3 L167.0,412.4 L168.2,411.5 L169.3,410.5 L170.4,409.4 L171.4,408.3 L172.4,407.2 L173.4,406.1 L174.2,404.8 L175.1,403.6 L175.9,402.3 L176.6,401.0 L177.3,399.7 L178.0,398.3 L178.6,397.0 L179.2,395.6 L179.8,394.2 L180.3,392.8 L180.8,391.4 L181.3,390.0 L181.8,388.6 L182.3,387.1 L182.8,385.7 L183.2,384.3 L183.7,382.9 L184.1,381.4 L184.5,380.0 L184.9,378.5 L185.3,377.1 L185.7,375.6 L186.0,374.2 L186.3,372.7 L186.7,371.2 L187.0,369.8 L187.3,368.3 L187.6,366.8 L187.9,365.4 L188.2,363.9 L188.5,362.4 L188.8,360.9 L189.0,359.5 L189.3,358.0 L189.6,356.5 L189.9,355.0 L190.2,353.6 L190.5,352.1 L190.8,350.6 L191.1,349.1 L191.4,347.7 L191.7,346.2 L192.0,344.7 L192.3,343.3 L192.6,341.8 L193.0,340.3 L193.3,338.9 L193.6,337.4 L193.9,335.9 L194.3,334.5 L194.6,333.0 L194.9,331.6 L195.2,330.1 L195.6,328.6 L195.9,327.2 L196.2,325.7 L196.5,324.2 L196.8,322.8 L197.1,321.3 L197.5,319.8 L197.8,318.3 L198.1,316.9 L198.4,315.4 L198.7,313.9 L199.0,312.5 L199.2,311.0 L199.5,309.5 L199.8,308.1 L200.1,306.6 L200.4,305.1 L200.8,303.6 L201.1,302.2 L201.4,300.7 L201.7,299.2 L202.0,297.8 L202.3,296.3 L202.6,294.8 L203.0,293.4 L203.3,291.9 L203.7,290.5 L204.0,289.0 L204.4,287.5 L204.8,286.1 L205.1,284.6 L205.5,283.2 L206.0,281.7 L206.4,280.3 L206.9,278.9 L207.4,277.5 L207.9,276.1 L208.4,274.7 L209.0,273.3 L209.6,271.9 L210.3,270.5 L211.0,269.2 L211.8,268.0 L212.7,266.7 L213.7,265.6 L214.8,264.6 L216.0,263.8 L217.3,263.1 L218.7,262.7 L220.2,262.4 L221.7,262.2 L223.2,262.2 L224.7,262.1 L226.2,262.1 L227.7,262.1 L229.2,262.1 L230.7,262.2 L232.2,262.2 L233.7,262.2 L235.2,262.2 L236.7,262.3 L238.2,262.3 L239.7,262.3 L241.2,262.4 L242.7,262.4 L244.2,262.4 L245.7,262.5 L247.2,262.5 L248.7,262.5 L250.2,262.6 L251.7,262.6 L253.2,262.7 L254.7,262.7 L256.2,262.7 L257.7,262.8 L259.2,262.8 L260.7,262.9 L262.2,262.9 L263.7,263.0 L265.2,263.0 L266.7,263.1 L268.2,263.1 L269.7,263.2 L271.2,263.2 L272.7,263.2 L274.2,263.3 L275.7,263.3 L277.2,263.4 L278.7,263.4 L280.2,263.4 L281.7,263.5 L282.7,263.5" fill="none" stroke="#000" stroke-width="1.25" stroke-linejoin="round" stroke-linecap="round"/>
<path d="M160.0,418.8 L161.5,418.8 L163.0,418.8 L164.5,418.8 L166.0,418.7 L167.5,418.7 L169.0,418.7 L170.5,418.6 L172.0,418.5 L173.5,418.4 L175.0,418.3 L176.5,418.0 L178.0,417.8 L179.4,417.5 L180.9,417.1 L182.3,416.7 L183.8,416.2 L185.2,415.6 L186.5,415.0 L187.8,414.3 L189.1,413.6 L190.4,412.7 L191.6,411.8 L192.8,410.9 L193.9,409.9 L195.0,408.9 L196.0,407.8 L197.0,406.6 L197.9,405.5 L198.8,404.2 L199.6,403.0 L200.4,401.7 L201.1,400.4 L201.8,399.0 L202.4,397.6 L203.0,396.3 L203.6,394.9 L204.1,393.5 L204.7,392.1 L205.2,390.7 L205.7,389.3 L206.2,387.8 L206.6,386.4 L207.0,385.0 L207.4,383.5 L207.8,382.1 L208.2,380.6 L208.5,379.1 L208.9,377.7 L209.2,376.2 L209.5,374.8 L209.8,373.3 L210.1,371.8 L210.4,370.3 L210.6,368.9 L210.9,367.4 L211.1,365.9 L211.4,364.4 L211.6,362.9 L211.8,361.4 L212.1,360.0 L212.3,358.5 L212.5,357.0 L212.8,355.5 L213.0,354.0 L213.2,352.5 L213.5,351.0 L213.7,349.6 L214.0,348.1 L214.3,346.6 L214.5,345.1 L214.8,343.7 L215.1,342.2 L215.4,340.7 L215.7,339.2 L216.0,337.8 L216.3,336.3 L216.6,334.8 L216.9,333.3 L217.2,331.9 L217.5,330.4 L217.8,328.9 L218.1,327.5 L218.3,326.0 L218.6,324.5 L218.9,323.0 L219.2,321.6 L219.4,320.1 L219.7,318.6 L220.0,317.1 L220.2,315.6 L220.5,314.2 L220.7,312.7 L221.0,311.2 L221.2,309.7 L221.5,308.2 L221.8,306.8 L222.0,305.3 L222.3,303.8 L222.5,302.3 L222.8,300.8 L223.1,299.4 L223.4,297.9 L223.6,296.4 L223.9,294.9 L224.2,293.5 L224.5,292.0 L224.9,290.5 L225.2,289.1 L225.5,287.6 L225.9,286.1 L226.3,284.7 L226.7,283.2 L227.1,281.8 L227.5,280.3 L227.9,278.9 L228.3,277.5 L228.8,276.0 L229.3,274.6 L229.8,273.2 L230.3,271.8 L230.9,270.4 L231.5,269.0 L232.2,267.7 L232.9,266.3 L233.6,265.0 L234.4,263.8 L235.3,262.6 L236.3,261.5 L237.4,260.5 L238.6,259.6 L239.9,258.9 L241.3,258.3 L242.7,258.0 L244.2,257.8 L245.7,257.7 L247.2,257.7 L248.7,257.7 L250.2,257.8 L251.7,257.9 L253.2,258.0 L254.7,258.1 L256.2,258.3 L257.7,258.4 L259.2,258.5 L260.7,258.7 L262.2,258.8 L263.7,258.9 L265.2,259.0 L266.7,259.2 L268.2,259.2 L269.7,259.3 L271.2,259.4 L272.7,259.5 L274.2,259.6 L275.7,259.6 L277.2,259.7 L278.7,259.8 L280.2,259.8 L281.7,259.9 L282.7,259.9" fill="none" stroke="#000" stroke-width="1.25" stroke-linejoin="round" stroke-linecap="round"/>
<path d="M180.0,418.8 L181.5,418.8 L183.0,418.8 L184.5,418.8 L186.0,418.7 L187.5,418.7 L189.0,418.7 L190.5,418.6 L192.0,418.5 L193.5,418.4 L195.0,418.3 L196.5,418.1 L198.0,417.9 L199.5,417.7 L200.9,417.4 L202.4,417.1 L203.9,416.7 L205.3,416.2 L206.6,415.6 L207.9,414.9 L209.2,414.1 L210.3,413.1 L211.4,412.1 L212.5,411.0 L213.5,409.9 L214.5,408.8 L215.5,407.6 L216.4,406.4 L217.3,405.2 L218.2,404.0 L219.0,402.8 L219.8,401.5 L220.6,400.3 L221.4,399.0 L222.2,397.7 L222.9,396.4 L223.5,395.0 L224.2,393.7 L224.8,392.3 L225.4,390.9 L226.0,389.5 L226.5,388.1 L227.0,386.7 L227.5,385.3 L228.0,383.9 L228.4,382.4 L228.8,381.0 L229.2,379.6 L229.6,378.1 L230.0,376.7 L230.4,375.2 L230.7,373.7 L231.0,372.3 L231.3,370.8 L231.6,369.3 L231.8,367.9 L232.1,366.4 L232.4,364.9 L232.6,363.4 L232.9,361.9 L233.1,360.5 L233.4,359.0 L233.6,357.5 L233.9,356.0 L234.1,354.5 L234.4,353.1 L234.7,351.6 L234.9,350.1 L235.2,348.6 L235.5,347.2 L235.7,345.7 L236.0,344.2 L236.3,342.7 L236.6,341.3 L236.9,339.8 L237.2,338.3 L237.5,336.8 L237.8,335.4 L238.1,333.9 L238.4,332.4 L238.6,331.0 L238.9,329.5 L239.2,328.0 L239.5,326.5 L239.8,325.1 L240.1,323.6 L240.4,322.1 L240.7,320.7 L240.9,319.2 L241.2,317.7 L241.5,316.2 L241.8,314.8 L242.0,313.3 L242.3,311.8 L242.6,310.3 L242.8,308.9 L243.1,307.4 L243.4,305.9 L243.7,304.4 L243.9,303.0 L244.2,301.5 L244.5,300.0 L244.7,298.5 L245.0,297.0 L245.2,295.6 L245.5,294.1 L245.8,292.6 L246.1,291.1 L246.4,289.7 L246.6,288.2 L247.0,286.7 L247.3,285.3 L247.6,283.8 L247.9,282.3 L248.3,280.9 L248.6,279.4 L249.0,278.0 L249.4,276.5 L249.8,275.1 L250.2,273.6 L250.7,272.2 L251.1,270.8 L251.6,269.4 L252.2,268.0 L252.8,266.6 L253.4,265.2 L254.2,263.9 L255.0,262.7 L256.0,261.6 L257.1,260.7 L258.4,259.9 L259.8,259.4 L261.2,259.0 L262.7,258.8 L264.2,258.6 L265.7,258.5 L267.2,258.4 L268.7,258.3 L270.2,258.3 L271.7,258.3 L273.2,258.3 L274.7,258.3 L276.2,258.4 L277.7,258.4 L279.2,258.5 L280.7,258.6 L282.2,258.7 L282.7,258.7" fill="none" stroke="#000" stroke-width="1.25" stroke-linejoin="round" stroke-linecap="round"/>
<path d="M195.0,418.8 L196.5,418.8 L198.0,418.7 L199.5,418.7 L201.0,418.6 L202.5,418.5 L204.0,418.4 L205.5,418.3 L207.0,418.2 L208.5,418.0 L210.0,417.8 L211.5,417.5 L212.9,417.3 L214.4,416.9 L215.9,416.5 L217.3,416.1 L218.7,415.6 L220.1,415.0 L221.5,414.4 L222.8,413.8 L224.2,413.1 L225.5,412.3 L226.7,411.5 L227.9,410.6 L229.1,409.6 L230.2,408.7 L231.3,407.6 L232.3,406.5 L233.3,405.4 L234.2,404.2 L235.1,403.0 L236.0,401.7 L236.7,400.4 L237.5,399.1 L238.2,397.8 L238.9,396.5 L239.5,395.1 L240.1,393.7 L240.7,392.3 L241.2,390.9 L241.8,389.5 L242.3,388.1 L242.8,386.7 L243.2,385.3 L243.7,383.8 L244.1,382.4 L244.5,380.9 L244.9,379.5 L245.3,378.0 L245.6,376.6 L246.0,375.1 L246.3,373.6 L246.6,372.2 L246.9,370.7 L247.1,369.2 L247.4,367.7 L247.7,366.3 L247.9,364.8 L248.2,363.3 L248.4,361.8 L248.7,360.3 L248.9,358.9 L249.2,357.4 L249.4,355.9 L249.7,354.4 L249.9,352.9 L250.2,351.4 L250.4,350.0 L250.7,348.5 L251.0,347.0 L251.3,345.5 L251.6,344.1 L251.9,342.6 L252.1,341.1 L252.4,339.6 L252.7,338.2 L253.0,336.7 L253.3,335.2 L253.6,333.7 L253.9,332.3 L254.2,330.8 L254.5,329.3 L254.8,327.8 L255.1,326.4 L255.4,324.9 L255.7,323.4 L256.0,322.0 L256.3,320.5 L256.6,319.0 L256.9,317.5 L257.2,316.1 L257.5,314.6 L257.8,313.1 L258.0,311.6 L258.3,310.2 L258.6,308.7 L258.9,307.2 L259.2,305.7 L259.5,304.3 L259.7,302.8 L260.0,301.3 L260.3,299.8 L260.6,298.3 L260.8,296.9 L261.1,295.4 L261.3,293.9 L261.6,292.4 L261.9,291.0 L262.2,289.5 L262.5,288.0 L262.8,286.5 L263.2,285.1 L263.5,283.6 L263.9,282.2 L264.2,280.7 L264.6,279.2 L265.0,277.8 L265.4,276.3 L265.8,274.9 L266.3,273.5 L266.8,272.0 L267.3,270.6 L267.8,269.2 L268.4,267.8 L269.0,266.5 L269.6,265.1 L270.3,263.8 L271.1,262.4 L271.9,261.2 L272.7,260.0 L273.7,258.8 L274.8,257.8 L275.9,256.8 L277.2,256.0 L278.5,255.3 L279.8,254.7 L281.2,254.2 L282.7,253.7" fill="none" stroke="#000" stroke-width="1.25" stroke-linejoin="round" stroke-linecap="round"/>
<path d="M214.3,418.6 L215.8,418.7 L217.3,418.7 L218.8,418.8 L220.3,418.8 L221.8,418.9 L223.3,418.9 L224.8,419.0 L226.3,419.1 L227.9,419.2 L229.4,419.2 L230.9,419.3 L232.4,419.3 L233.9,419.2 L235.4,419.1 L236.9,419.0 L238.4,418.9 L239.9,418.7 L241.4,418.5 L242.9,418.3 L244.4,418.1 L245.8,417.8 L247.3,417.5 L248.8,417.1 L250.3,416.8 L251.7,416.4 L253.2,415.9 L254.6,415.4 L255.9,414.8 L257.3,414.1 L258.6,413.4 L259.9,412.6 L261.1,411.7 L262.2,410.7 L263.3,409.7 L264.3,408.6 L265.3,407.4 L266.3,406.2 L267.1,405.0 L268.0,403.8 L268.8,402.5 L269.5,401.2 L270.3,399.8 L271.0,398.5 L271.6,397.1 L272.2,395.8 L272.8,394.4 L273.4,393.0 L273.9,391.6 L274.4,390.2 L275.0,388.8 L275.5,387.3 L276.0,385.9 L276.5,384.5 L277.0,383.1 L277.5,381.7 L278.0,380.2 L278.4,378.8 L278.9,377.4 L279.3,375.9 L279.7,374.5 L280.2,373.0 L280.6,371.6 L281.0,370.1 L281.4,368.7 L281.7,367.2 L282.1,365.7 L282.5,364.3 L282.7,363.3" fill="none" stroke="#000" stroke-width="1.25" stroke-linejoin="round" stroke-linecap="round"/>
<text x="178.5" y="377" font-size="7.6" text-anchor="middle" font-weight="normal" >A</text>
<text x="203.2" y="377" font-size="7.6" text-anchor="middle" font-weight="normal" >B</text>
<text x="220.3" y="377" font-size="7.6" text-anchor="middle" font-weight="normal" >C</text>
<text x="239.4" y="377" font-size="7.6" text-anchor="middle" font-weight="normal" >D</text>
<text x="266.8" y="377" font-size="7.6" text-anchor="middle" font-weight="normal" >E</text>
<text x="299.6" y="273.0" font-size="7.9" text-anchor="start" font-weight="normal" >DNA concentration</text>
<line x1="299.5" y1="273.6" x2="366.6" y2="273.6" stroke="#000" stroke-width="0.9"/>
<text x="300.5" y="292.0" font-size="6.8" text-anchor="start" font-weight="normal" >A = 10 ng/µl</text>
<text x="300.5" y="311.65" font-size="6.8" text-anchor="start" font-weight="normal" >B = 1 ng/µl</text>
<text x="300.5" y="331.3" font-size="6.8" text-anchor="start" font-weight="normal" >C = 0.1 ng/µl</text>
<text x="300.5" y="350.95" font-size="6.8" text-anchor="start" font-weight="normal" >D = 0.01 ng/µl</text>
<text x="300.5" y="370.6" font-size="6.8" text-anchor="start" font-weight="normal" >E = 0.001 ng/µl</text>
<text x="345.2" y="237.7" font-size="17.8" text-anchor="start" font-weight="normal" >D</text>
<path d="M373.0,438.0 V238.4 H617.7" fill="none" stroke="#666" stroke-width="1"/>
<path d="M617.7,238.4 V438.0 H373.0" fill="none" stroke="#111" stroke-width="1"/>
<text x="493.5" y="257.4" font-size="8.84" text-anchor="middle" font-weight="normal" >Standard curve (TRH met)</text>
<line x1="401.6" y1="272.5" x2="608.7" y2="272.5" stroke="#888" stroke-width="1.1"/>
<text x="397.5" y="275.0" font-size="7" text-anchor="end" font-weight="normal" >45</text>
<line x1="401.6" y1="298.1" x2="608.7" y2="298.1" stroke="#333" stroke-width="0.9"/>
<text x="397.5" y="300.6" font-size="7" text-anchor="end" font-weight="normal" >40</text>
<line x1="401.6" y1="323.3" x2="608.7" y2="323.3" stroke="#707070" stroke-width="1.2"/>
<text x="397.5" y="325.8" font-size="7" text-anchor="end" font-weight="normal" >35</text>
<line x1="401.6" y1="347.9" x2="608.7" y2="347.9" stroke="#707070" stroke-width="1.2"/>
<text x="397.5" y="350.4" font-size="7" text-anchor="end" font-weight="normal" >30</text>
<line x1="401.6" y1="372.5" x2="608.7" y2="372.5" stroke="#333" stroke-width="0.9"/>
<text x="397.5" y="375.0" font-size="7" text-anchor="end" font-weight="normal" >25</text>
<path d="M401.6,265.5 V397.1 H608.7" fill="none" stroke="#222" stroke-width="0.95"/>
<text x="401" y="410.3" font-size="6.5" text-anchor="middle" font-weight="normal" >0</text>
<text x="433.5" y="410.3" font-size="6.5" text-anchor="middle" font-weight="normal" >0.001</text>
<text x="468.9" y="410.3" font-size="6.5" text-anchor="middle" font-weight="normal" >0.01</text>
<text x="504" y="410.3" font-size="6.5" text-anchor="middle" font-weight="normal" >0.1</text>
<text x="539.3" y="410.3" font-size="6.5" text-anchor="middle" font-weight="normal" >1</text>
<text x="574.6" y="410.3" font-size="6.5" text-anchor="middle" font-weight="normal" >10</text>
<line x1="435.5" y1="287.1" x2="575" y2="364.0" stroke="#000" stroke-width="1.15" stroke-dasharray="1.3,0.7"/>
<ellipse cx="436.2" cy="283.8" rx="1.9" ry="2.55" fill="#000"/>
<ellipse cx="470.7" cy="312.7" rx="1.9" ry="2.55" fill="#000"/>
<ellipse cx="505.8" cy="326.5" rx="1.9" ry="2.55" fill="#000"/>
<ellipse cx="540.5" cy="345.1" rx="1.9" ry="2.55" fill="#000"/>
<ellipse cx="574.9" cy="365.6" rx="1.9" ry="2.55" fill="#000"/>
<text x="520.6" y="357.0" font-size="5.86" text-anchor="middle" font-weight="normal" >y=-3.9127x+45.926</text>
<text x="520.6" y="363.6" font-size="5.86" text-anchor="middle">R<tspan font-size="3.6" dy="-2.2">2</tspan><tspan dy="2.2">-0.9868</tspan></text>
<text transform="translate(385.8,332.8) rotate(-90)" font-size="10" text-anchor="middle">Ct</text>
<text x="509.9" y="425.0" font-size="8.78" text-anchor="middle" font-weight="normal" >DNA concentration (ng/µl)</text>
</svg>
</body></html>
